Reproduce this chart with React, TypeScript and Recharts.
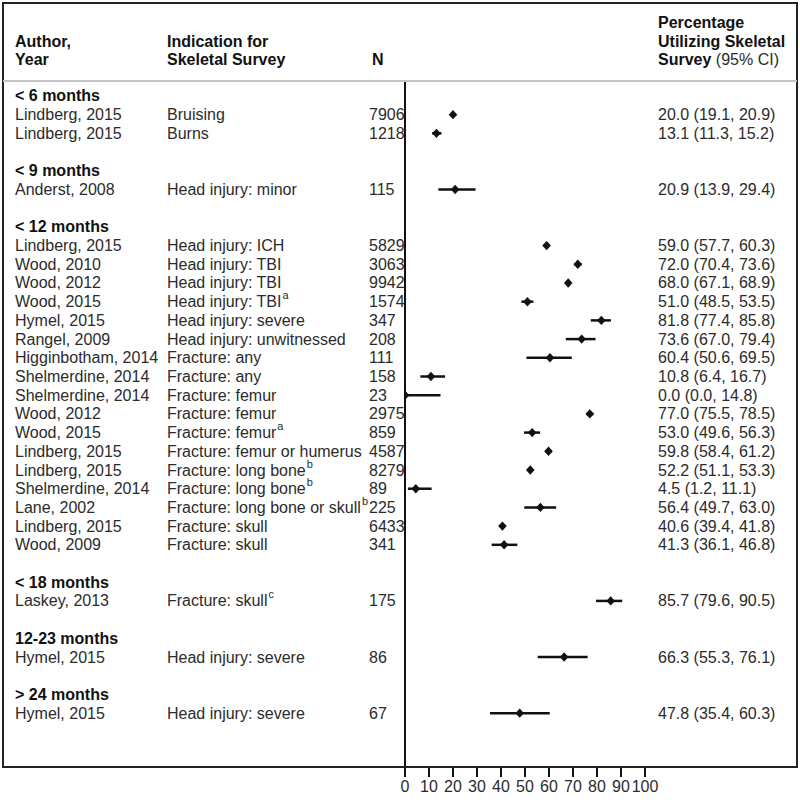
import { ComposedChart, Scatter, ErrorBar, XAxis, YAxis } from 'recharts'

// age groups and the studies in each (rowGroup points into ageGroups)
const ageGroups = ['< 6 months', '< 9 months', '< 12 months', '< 18 months', '12-23 months', '> 24 months']

const authors = [
  'Lindberg, 2015', 'Lindberg, 2015',
  'Anderst, 2008',
  'Lindberg, 2015', 'Wood, 2010', 'Wood, 2012', 'Wood, 2015', 'Hymel, 2015', 'Rangel, 2009',
  'Higginbotham, 2014', 'Shelmerdine, 2014', 'Shelmerdine, 2014', 'Wood, 2012', 'Wood, 2015',
  'Lindberg, 2015', 'Lindberg, 2015', 'Shelmerdine, 2014', 'Lane, 2002', 'Lindberg, 2015', 'Wood, 2009',
  'Laskey, 2013',
  'Hymel, 2015',
  'Hymel, 2015',
]
const indications = [
  'Bruising', 'Burns',
  'Head injury: minor',
  'Head injury: ICH', 'Head injury: TBI', 'Head injury: TBI', 'Head injury: TBI', 'Head injury: severe',
  'Head injury: unwitnessed', 'Fracture: any', 'Fracture: any', 'Fracture: femur', 'Fracture: femur',
  'Fracture: femur', 'Fracture: femur or humerus', 'Fracture: long bone', 'Fracture: long bone',
  'Fracture: long bone or skull', 'Fracture: skull', 'Fracture: skull',
  'Fracture: skull',
  'Head injury: severe',
  'Head injury: severe',
]
const notes = [
  '', '',
  '',
  '', '', '', 'a', '', '', '', '', '', '', 'a', '', 'b', 'b', 'b', '', '',
  'c',
  '',
  '',
]
const sampleSizes = [
  7906, 1218,
  115,
  5829, 3063, 9942, 1574, 347, 208, 111, 158, 23, 2975, 859, 4587, 8279, 89, 225, 6433, 341,
  175,
  86,
  67,
]
const estimates = [
  20.0, 13.1,
  20.9,
  59.0, 72.0, 68.0, 51.0, 81.8, 73.6, 60.4, 10.8, 0.0, 77.0, 53.0, 59.8, 52.2, 4.5, 56.4, 40.6, 41.3,
  85.7,
  66.3,
  47.8,
]
const lowerCI = [
  19.1, 11.3,
  13.9,
  57.7, 70.4, 67.1, 48.5, 77.4, 67.0, 50.6, 6.4, 0.0, 75.5, 49.6, 58.4, 51.1, 1.2, 49.7, 39.4, 36.1,
  79.6,
  55.3,
  35.4,
]
const upperCI = [
  20.9, 15.2,
  29.4,
  60.3, 73.6, 68.9, 53.5, 85.8, 79.4, 69.5, 16.7, 14.8, 78.5, 56.3, 61.2, 53.3, 11.1, 63.0, 41.8, 46.8,
  90.5,
  76.1,
  60.3,
]
const rowGroup = [0, 0, 1, 2, 2, 2, 2, 2, 2, 2, 2, 2, 2, 2, 2, 2, 2, 2, 2, 2, 3, 4, 5]

const xTicks = [0, 10, 20, 30, 40, 50, 60, 70, 80, 90, 100]

// one slot per line: group label, its studies, then a blank line
type Slot = { slot: number; kind: 'group' | 'study'; i: number }
const slots: Slot[] = []
let s = 0
ageGroups.forEach((_, gi) => {
  slots.push({ slot: s++, kind: 'group', i: gi })
  rowGroup.forEach((g, i) => {
    if (g === gi) slots.push({ slot: s++, kind: 'study', i })
  })
  s++
})

const points = slots
  .filter((r) => r.kind === 'study')
  .map((r) => ({
    x: estimates[r.i],
    y: r.slot,
    err: [estimates[r.i] - lowerCI[r.i], upperCI[r.i] - estimates[r.i]],
  }))

const FONT = '"Liberation Sans", Arial, Helvetica, sans-serif'
const INK = '#2b2b2b'

function RowTick({ y, payload }: any) {
  const row = slots.find((r) => r.slot === payload.value)
  if (!row) return null
  const ty = y + 5.5
  if (row.kind === 'group') {
    return (
      <text x={15} y={ty} fontFamily={FONT} fontSize={16} fontWeight="bold" fill="#111">
        {ageGroups[row.i]}
      </text>
    )
  }
  const i = row.i
  const ci = `${estimates[i].toFixed(1)} (${lowerCI[i].toFixed(1)}, ${upperCI[i].toFixed(1)})`
  return (
    <g fontFamily={FONT} fontSize={16} fill={INK}>
      <text x={15} y={ty}>{authors[i]}</text>
      <text x={167} y={ty}>
        {indications[i]}
        {notes[i] && (
          <tspan dx={1} dy={-8} fontSize={11}>
            {notes[i]}
          </tspan>
        )}
      </text>
      <text x={369} y={ty}>{sampleSizes[i]}</text>
      <text x={658} y={ty}>{ci}</text>
    </g>
  )
}

function Diamond({ cx, cy }: any) {
  return <path d={`M${cx},${cy - 4.7} L${cx + 4.3},${cy} L${cx},${cy + 4.7} L${cx - 4.3},${cy} Z`} fill="#111" />
}

export default function App() {
  return (
    <div style={{ position: 'relative', width: 800, height: 805, fontFamily: FONT }}>
      <style>{'body{margin:0}'}</style>
      <ComposedChart width={800} height={805} margin={{ top: 81, right: 155, bottom: 8, left: 5 }}>
        <XAxis
          type="number"
          dataKey="x"
          domain={[0, 100]}
          ticks={xTicks}
          interval={0}
          allowDataOverflow
          height={30}
          tickSize={10}
          tickMargin={4}
          axisLine={{ stroke: '#111', strokeWidth: 2 }}
          tickLine={{ stroke: '#111', strokeWidth: 2 }}
          tick={{ fontSize: 16, fill: INK, fontFamily: FONT }}
        />
        <YAxis
          type="number"
          dataKey="y"
          domain={[-0.8, 35.88]}
          reversed
          allowDataOverflow
          ticks={slots.map((r) => r.slot)}
          interval={0}
          width={400}
          tickLine={false}
          axisLine={{ stroke: '#111', strokeWidth: 2 }}
          tick={<RowTick />}
        />
        <Scatter data={points} shape={<Diamond />} isAnimationActive={false}>
          <ErrorBar dataKey="err" direction="x" width={0} stroke="#111" strokeWidth={2.5} isAnimationActive={false} />
        </Scatter>
      </ComposedChart>
      <svg
        width={800}
        height={805}
        style={{ position: 'absolute', left: 0, top: 0, pointerEvents: 'none' }}
        fontFamily={FONT}
        fontSize={16}
      >
        <rect x={3} y={3} width={794} height={764} fill="none" stroke="#222" strokeWidth={2} />
        <line x1={3} x2={797} y1={81} y2={81} stroke="#c4c4c4" strokeWidth={2} />
        <g fontWeight="bold" fill="#111">
          <text x={15} y={47}>Author,</text>
          <text x={15} y={65}>Year</text>
          <text x={167} y={47}>Indication for</text>
          <text x={167} y={65}>Skeletal Survey</text>
          <text x={372} y={65}>N</text>
          <text x={658} y={28}>Percentage</text>
          <text x={658} y={46.5}>Utilizing Skeletal</text>
          <text x={658} y={65}>
            Survey{' '}
            <tspan fontWeight="normal" fill={INK}>
              (95% CI)
            </tspan>
          </text>
        </g>
      </svg>
    </div>
  )
}
